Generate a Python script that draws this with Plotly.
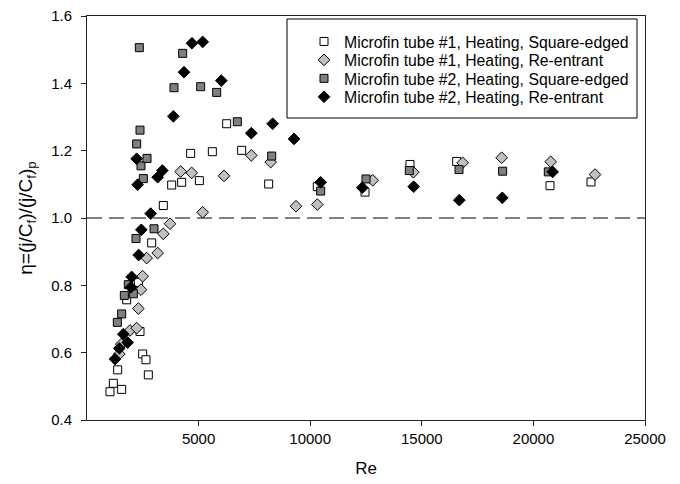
import plotly.graph_objects as go

# Microfin tube #1, Heating, Square-edged (open squares)
re_t1_sq = [1030, 1180, 1553, 1374, 1778, 2300, 2375, 2494, 2643, 2748, 2898, 3420, 3793,
            4241, 4644, 5034, 5616, 6257, 6929, 8139, 10318, 12455, 14471, 16562, 20744, 22581]
eta_t1_sq = [0.484, 0.509, 0.491, 0.549, 0.757, 0.809, 0.663, 0.596, 0.579, 0.534, 0.926, 1.037, 1.098,
             1.106, 1.192, 1.111, 1.197, 1.280, 1.201, 1.101, 1.093, 1.077, 1.159, 1.168, 1.096, 1.107]

# Microfin tube #1, Heating, Re-entrant (light grey diamonds)
re_t1_re = [1449, 1530, 1927, 2225, 2300, 2419, 2494, 2673, 3166, 3420, 3719, 4196, 4689, 5182,
            6138, 7362, 8229, 9364, 10318, 12800, 14620, 16831, 18578, 20775, 22760]
eta_t1_re = [0.596, 0.625, 0.666, 0.673, 0.731, 0.787, 0.827, 0.881, 0.896, 0.953, 0.983, 1.138, 1.134, 1.017,
             1.125, 1.186, 1.166, 1.035, 1.040, 1.112, 1.136, 1.164, 1.179, 1.167, 1.129]

# Microfin tube #2, Heating, Square-edged (dark grey squares)
re_t2_sq = [1359, 1553, 1673, 1852, 2076, 2195, 2225, 2345, 2375, 2419, 2524, 2688, 3002, 3898,
            4286, 5093, 5810, 6735, 8274, 10469, 12500, 14440, 16667, 18622, 20668]
eta_t2_sq = [0.690, 0.715, 0.770, 0.802, 0.775, 0.939, 1.220, 1.506, 1.261, 1.155, 1.117, 1.177, 0.968, 1.387,
             1.489, 1.390, 1.373, 1.286, 1.184, 1.080, 1.116, 1.141, 1.144, 1.139, 1.137]

# Microfin tube #2, Heating, Re-entrant (black diamonds)
re_t2_re = [1254, 1449, 1628, 1822, 1971, 2001, 2225, 2270, 2315, 2435, 2853, 3166, 3375, 3868,
            4346, 4704, 5182, 6018, 7362, 8319, 9274, 10469, 12336, 14635, 16681, 18607, 20863]
eta_t2_re = [0.581, 0.613, 0.655, 0.630, 0.794, 0.825, 1.176, 1.099, 0.890, 0.965, 1.013, 1.121, 1.141, 1.302,
             1.433, 1.519, 1.523, 1.408, 1.252, 1.280, 1.235, 1.106, 1.090, 1.093, 1.053, 1.060, 1.137]

series_names = ["Microfin tube #1, Heating, Square-edged",
                "Microfin tube #1, Heating, Re-entrant",
                "Microfin tube #2, Heating, Square-edged",
                "Microfin tube #2, Heating, Re-entrant"]

x_ticks = [5000, 10000, 15000, 20000, 25000]
y_ticks = [0.4, 0.6, 0.8, 1.0, 1.2, 1.4, 1.6]

FONT = "Liberation Sans, Arial, sans-serif"
W, H = 680, 484
L, R, T, B = 87, 35, 16, 64
PH = H - T - B
PW = W - L - R

def py(px):
    return 1 - (px - T) / PH

def pxx(px):
    return (px - L) / PW

styles = [
    dict(symbol="square", size=8, color="white"),
    dict(symbol="diamond", size=9, color="#c0c0c0"),
    dict(symbol="square", size=8, color="#808080"),
    dict(symbol="diamond", size=9, color="black"),
]
data = [(re_t1_sq, eta_t1_sq), (re_t1_re, eta_t1_re), (re_t2_sq, eta_t2_sq), (re_t2_re, eta_t2_re)]

fig = go.Figure()
legend_ids = ["legend", "legend2", "legend3", "legend4"]
for i, ((xs, ys), st, nm) in enumerate(zip(data, styles, series_names)):
    fig.add_trace(go.Scatter(
        x=xs, y=ys, mode="markers", name=nm, legend=legend_ids[i],
        marker=dict(symbol=st["symbol"], size=st["size"], color=st["color"],
                    line=dict(color="black", width=1)),
    ))

item_centers = [41.7, 60.1, 78.6, 97.0]
legend_cfg = {}
for i, lid in enumerate(legend_ids):
    legend_cfg[lid] = dict(
        x=pxx(304), xanchor="left", y=py(item_centers[i]), yanchor="middle",
        font=dict(family=FONT, size=15.8, color="black"),
        bgcolor="rgba(0,0,0,0)", borderwidth=0,
    )

fig.update_layout(
    width=W, height=H,
    margin=dict(l=L, r=R, t=T, b=B, autoexpand=False),
    paper_bgcolor="white", plot_bgcolor="white",
    font=dict(family=FONT, size=15, color="black"),
    showlegend=True,
    **legend_cfg,
    xaxis=dict(
        range=[0, 25000], tickvals=x_ticks, ticktext=[str(v) for v in x_ticks],
        showgrid=False, zeroline=False, showline=True, mirror=True,
        linecolor="#222", linewidth=1, ticks="outside", ticklen=5, tickcolor="#222",
        tickfont=dict(family=FONT, size=15, color="black"),
        title=dict(text="Re", font=dict(family=FONT, size=17, color="black"), standoff=16),
        automargin=False,
    ),
    yaxis=dict(
        range=[0.4, 1.6], tickvals=y_ticks, ticktext=["%.1f" % v for v in y_ticks],
        showgrid=False, zeroline=False, showline=True, mirror=True,
        linecolor="#222", linewidth=1, ticks="outside", ticklen=5, tickcolor="#222",
        tickfont=dict(family=FONT, size=15, color="black"), ticklabelstandoff=6,
        title=dict(text="η=(j/C<sub>f</sub>)/(j/C<sub>f</sub>)<sub>p</sub>",
                   font=dict(family=FONT, size=19, color="black"), standoff=13),
        automargin=False,
    ),
    shapes=[
        dict(type="line", xref="x", yref="y", x0=0, x1=25000, y0=1.0, y1=1.0,
             line=dict(color="black", width=1.2, dash="15px,7px"), layer="below"),
        dict(type="rect", xref="paper", yref="paper",
             x0=pxx(287), x1=pxx(637), y0=py(118), y1=py(19),
             line=dict(color="black", width=1), fillcolor="white", layer="below"),
    ],
)

fig.write_html("out.html")
